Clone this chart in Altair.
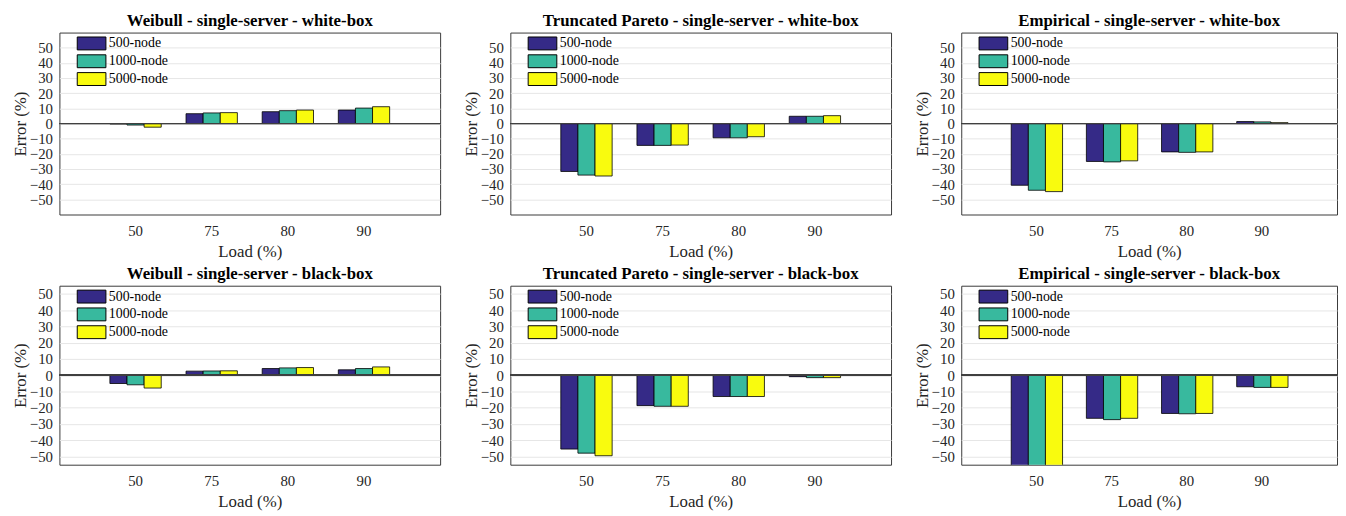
import altair as alt
import pandas as pd

loads = ["50", "75", "80", "90"]
nodes = ["500-node", "1000-node", "5000-node"]
colors = ["#352A87", "#38B99E", "#F9FB0E"]

# Error (%) at loads 50, 75, 80, 90 for each node count
weibull_white = {
    "500-node": [-0.3, 6.5, 7.8, 8.9],
    "1000-node": [-1.0, 7.0, 8.5, 10.2],
    "5000-node": [-2.4, 7.2, 8.9, 11.1],
}
pareto_white = {
    "500-node": [-31.6, -14.4, -9.4, 4.8],
    "1000-node": [-34.0, -14.4, -9.4, 4.8],
    "5000-node": [-34.6, -14.2, -8.7, 5.2],
}
empirical_white = {
    "500-node": [-40.7, -25.0, -18.7, 1.3],
    "1000-node": [-44.0, -25.3, -19.0, 1.1],
    "5000-node": [-44.9, -24.6, -18.7, 0.6],
}
weibull_black = {
    "500-node": [-5.1, 2.5, 4.1, 3.3],
    "1000-node": [-5.9, 2.6, 4.5, 4.1],
    "5000-node": [-7.9, 2.7, 4.7, 5.1],
}
pareto_black = {
    "500-node": [-45.4, -18.7, -13.1, -0.9],
    "1000-node": [-47.9, -19.1, -13.1, -1.5],
    "5000-node": [-49.5, -19.1, -13.1, -1.5],
}
empirical_black = {
    "500-node": [-62.0, -26.5, -23.5, -7.1],
    "1000-node": [-65.0, -27.3, -23.7, -7.5],
    "5000-node": [-66.0, -26.5, -23.5, -7.5],
}

titles_top = ["Weibull - single-server - white-box",
              "Truncated Pareto - single-server - white-box",
              "Empirical - single-server - white-box"]
titles_bottom = ["Weibull - single-server - black-box",
                 "Truncated Pareto - single-server - black-box",
                 "Empirical - single-server - black-box"]

FONT = "Liberation Serif"


def make_panel(title, values, ydom, width, height):
    rows = [{"load": l, "node": n, "error": v}
            for n in nodes for l, v in zip(loads, values[n])]
    df = pd.DataFrame(rows)
    base = alt.Chart(df)
    bars = base.mark_bar(stroke="black", strokeWidth=0.8, clip=True).encode(
        x=alt.X("load:N", sort=loads,
                scale=alt.Scale(paddingInner=0, paddingOuter=0.5),
                axis=alt.Axis(labelAngle=0, ticks=False, domain=False,
                              labelFontSize=15, labelPadding=9,
                              title="Load (%)", titlePadding=5)),
        xOffset=alt.XOffset("node:N", sort=nodes,
                            scale=alt.Scale(paddingInner=0, paddingOuter=0.725)),
        y=alt.Y("error:Q",
                scale=alt.Scale(domain=ydom, nice=False, zero=False),
                axis=alt.Axis(values=list(range(-50, 51, 10)), tickCount=12,
                              grid=True, ticks=False, domain=False,
                              labelFontSize=15, labelPadding=7,
                              labelOverlap=False,
                              minExtent=30, maxExtent=30, titlePadding=0,
                              title="Error (%)")),
        color=alt.Color("node:N", sort=nodes,
                        scale=alt.Scale(domain=nodes, range=colors),
                        legend=alt.Legend(
                            title=None, orient="none", legendX=18, legendY=3,
                            symbolType="M-1.1,-0.9H2.9V0.9H-1.1Z", symbolSize=210,
                            symbolStrokeColor="black", symbolStrokeWidth=1,
                            symbolOpacity=1, labelFont=FONT, labelFontSize=14,
                            labelColor="black", labelOffset=16, rowPadding=0,
                            padding=0)),
    )
    zero = base.mark_rule(color="#404040", strokeWidth=1).encode(y=alt.datum(0))
    return alt.layer(bars, zero).properties(
        width=width, height=height,
        title=alt.TitleParams(text=title, font=FONT, fontSize=17,
                              fontWeight="bold", color="black", offset=3,
                              anchor="middle"),
    )


top = alt.hconcat(
    make_panel(titles_top[0], weibull_white, [-60, 60], 385, 184),
    make_panel(titles_top[1], pareto_white, [-60, 60], 385, 184),
    make_panel(titles_top[2], empirical_white, [-60, 60], 380, 184),
    spacing=21,
).resolve_scale(color="independent", y="independent", x="independent")

bottom = alt.hconcat(
    make_panel(titles_bottom[0], weibull_black, [-55, 55], 385, 181),
    make_panel(titles_bottom[1], pareto_black, [-55, 55], 385, 181),
    make_panel(titles_bottom[2], empirical_black, [-55, 55], 380, 181),
    spacing=21,
).resolve_scale(color="independent", y="independent", x="independent")

chart = alt.vconcat(top, bottom, spacing=4).resolve_scale(
    color="independent", y="independent", x="independent"
).properties(
    padding={"left": 3, "top": 0, "right": 0, "bottom": 0}
).configure_view(
    stroke="#3a3a3a", strokeWidth=1
).configure_axis(
    labelFont=FONT, titleFont=FONT, labelFontSize=15, titleFontSize=17,
    labelColor="#262626", titleColor="#262626", titleFontWeight="normal",
    gridColor="#E6E6E6", gridWidth=1
)

chart.save("out.html", embed_options={"renderer": "svg", "actions": False})
